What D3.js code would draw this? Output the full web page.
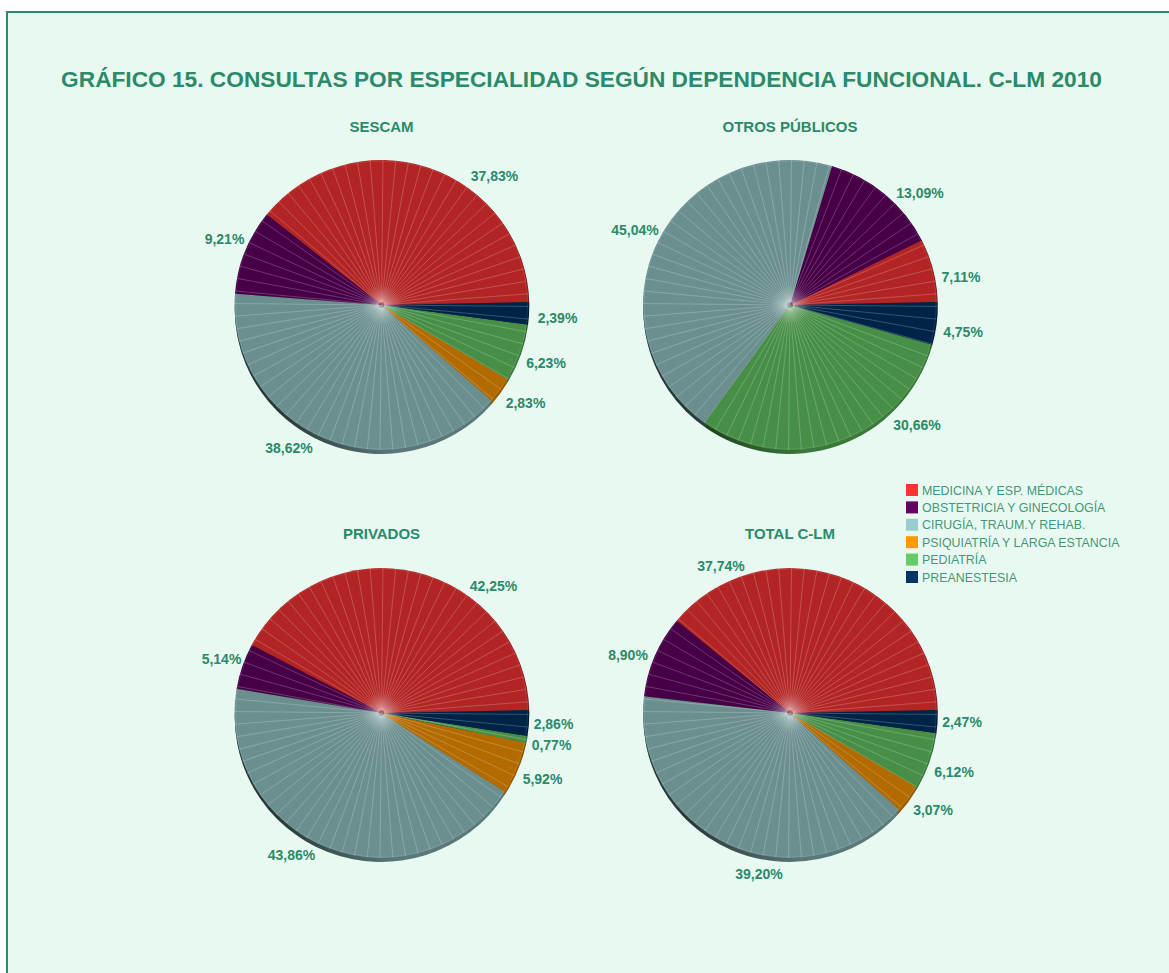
<!DOCTYPE html>
<html><head><meta charset="utf-8"><style>html,body{margin:0;padding:0;background:#fff;overflow:hidden}svg{display:block}text{font-family:"Liberation Sans",Arial,sans-serif}</style>
<script src="https://cdn.jsdelivr.net/npm/d3@7"></script></head><body><div id="c"></div>
<script>
const categories=["MEDICINA Y ESP. MÉDICAS","OBSTETRICIA Y GINECOLOGÍA","CIRUGÍA, TRAUM.Y REHAB.","PSIQUIATRÍA Y LARGA ESTANCIA","PEDIATRÍA","PREANESTESIA"];
const legendColors=["#ff3333","#660066","#99cccc","#ff9900","#66cc66","#003366"];
const sescam=[37.83,9.21,38.62,2.83,6.23,2.39];
const otros=[7.11,13.09,45.04,0,30.66,4.75];
const privados=[42.25,5.14,43.86,5.92,0.77,2.86];
const total=[37.74,8.90,39.20,3.07,6.12,2.47];
const pieTitles=["SESCAM","OTROS PÚBLICOS","PRIVADOS","TOTAL C-LM"];
const pieValues=[sescam,otros,privados,total];
// label placement only (offset from each pie's centre)
const labelOffsets=[
 [[113,-129],[-157,-66],[-92.5,143],[144,98],[164.5,58],[176,13]],
 [[171,-28],[130,-112],[-155,-75],null,[127,120],[173,27]],
 [[112,-127],[-160,-54],[-90,142],[161,66],[170,32],[172,11]],
 [[-69,-147],[-162,-58],[-31,161],[143,97],[164,59],[172,9]]];
const W=1169,H=973,ink="#2b8a69",bg="#e7f9f1";
const svg=d3.select("#c").append("svg").attr("width",W).attr("height",H);
svg.append("rect").attr("x",7).attr("y",12).attr("width",W+20).attr("height",H+20).attr("fill",bg).attr("stroke",ink).attr("stroke-width",2);
svg.append("text").attr("x",581.5).attr("y",87).attr("text-anchor","middle").attr("font-size",22.7).attr("font-weight","bold").attr("fill",ink).text("GRÁFICO 15. CONSULTAS POR ESPECIALIDAD SEGÚN DEPENDENCIA FUNCIONAL. C-LM 2010");
const defs=svg.append("defs");
const g0=defs.append("radialGradient").attr("id","hub");
g0.append("stop").attr("offset",0).attr("stop-color","#fff").attr("stop-opacity",.28);
g0.append("stop").attr("offset",.3).attr("stop-color","#fff").attr("stop-opacity",.2);
g0.append("stop").attr("offset",1).attr("stop-color","#fff").attr("stop-opacity",0);
const g1=defs.append("linearGradient").attr("id","shade").attr("x1",0).attr("x2",1).attr("y1",0).attr("y2",0);
g1.append("stop").attr("offset",.15).attr("stop-color","#000").attr("stop-opacity",.55);
g1.append("stop").attr("offset",.55).attr("stop-color","#000").attr("stop-opacity",0);
const R=147,centers=[[381.5,305],[790,305],[381.5,713],[790,713]],titleY=[132,132,539,539];
const fmt=v=>v.toFixed(2).replace(".",",")+"%";
const faceColor=c=>{const k=d3.rgb(c);return d3.rgb(k.r*.7,k.g*.7,k.b*.7)};
const sideColor=c=>d3.color(c).darker(.5);
const pie=d3.pie().sort(null).startAngle(Math.PI/2-.02).endAngle(Math.PI/2-.02-2*Math.PI);
const arc=d3.arc().innerRadius(0).outerRadius(R);
const spokeAngles=d3.range(0,360,5).map(d=>d*Math.PI/180+.01);
pieValues.forEach((vals,i)=>{
 const [cx,cy]=centers[i];
 svg.append("text").attr("x",cx).attr("y",titleY[i]).attr("text-anchor","middle").attr("font-size",15).attr("font-weight","bold").attr("fill",ink).text(pieTitles[i]);
 const arcs=pie(vals);
 const side2=svg.append("g").attr("transform",`translate(${cx+.8},${cy+1}) scale(1,.986)`);
 side2.selectAll("path").data(arcs).join("path").attr("d",arc).attr("fill",(d,j)=>d3.color(faceColor(legendColors[j])).darker(1.2));
 const side=svg.append("g").attr("transform",`translate(${cx-.3},${cy+4}) scale(.996,.986)`);
 side.selectAll("path").data(arcs).join("path").attr("d",arc).attr("fill",(d,j)=>sideColor(faceColor(legendColors[j])));
 side.append("circle").attr("r",R).attr("fill","url(#shade)");
 const g=svg.append("g").attr("transform",`translate(${cx},${cy}) scale(1,.986)`);
 g.selectAll("path").data(arcs).join("path").attr("d",arc).attr("fill",(d,j)=>faceColor(legendColors[j]));
 g.selectAll("line").data(spokeAngles).join("line")
  .attr("x1",a=>3*Math.sin(a)).attr("y1",a=>-3*Math.cos(a))
  .attr("x2",a=>R*Math.sin(a)).attr("y2",a=>-R*Math.cos(a))
  .attr("stroke","#fff").attr("stroke-opacity",.33).attr("stroke-width",.65);
 g.append("circle").attr("r",R-1).attr("fill","none").attr("stroke","#fff").attr("stroke-opacity",.12).attr("stroke-width",.7);
 g.append("circle").attr("r",20).attr("fill","url(#hub)");
 vals.forEach((v,j)=>{
  const o=labelOffsets[i][j]; if(!o) return;
  svg.append("text").attr("x",cx+o[0]).attr("y",cy+o[1]+5).attr("text-anchor","middle").attr("font-size",14).attr("font-weight","bold").attr("fill",ink).text(fmt(v));
 });
});
const leg=svg.append("g").selectAll("g").data(categories).join("g").attr("transform",(d,j)=>`translate(906,${484+j*17.4})`);
leg.append("rect").attr("width",12).attr("height",12).attr("fill",(d,j)=>legendColors[j]);
leg.append("text").attr("x",16).attr("y",10.5).attr("font-size",12.4).attr("fill",ink).attr("fill-opacity",.9).text(d=>d);
</script></body></html>
